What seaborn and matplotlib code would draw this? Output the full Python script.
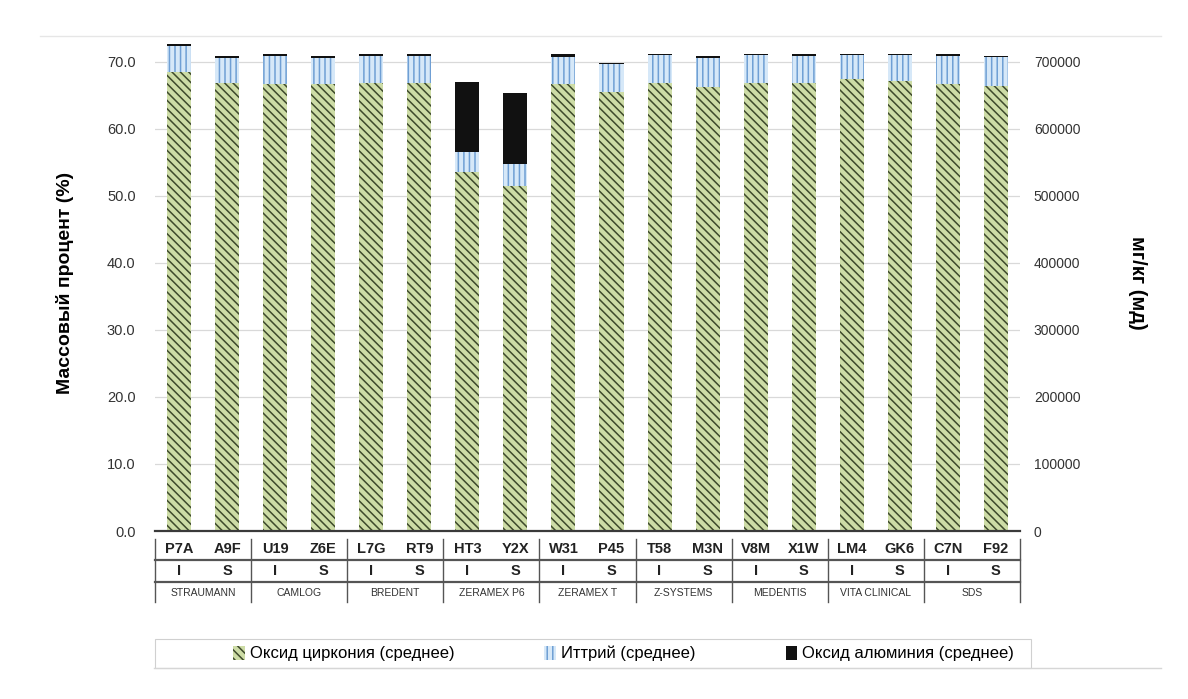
import numpy as np
import pandas as pd
import matplotlib
matplotlib.use("Agg")
import matplotlib.pyplot as plt
import matplotlib.transforms as mtransforms
from matplotlib.patches import Patch
import seaborn as sns

# данные
codes = ['P7A', 'A9F', 'U19', 'Z6E', 'L7G', 'RT9', 'HT3', 'Y2X', 'W31',
         'P45', 'T58', 'M3N', 'V8M', 'X1W', 'LM4', 'GK6', 'C7N', 'F92']
types = ['I', 'S'] * 9
brands = ['STRAUMANN', 'CAMLOG', 'BREDENT', 'ZERAMEX P6', 'ZERAMEX T',
          'Z-SYSTEMS', 'MEDENTIS', 'VITA CLINICAL', 'SDS']
zirconia = [68.4, 66.9, 66.7, 66.7, 66.9, 66.9, 53.5, 51.5, 66.7,
            65.5, 66.9, 66.3, 66.9, 66.9, 67.5, 67.2, 66.7, 66.4]
yttria = [4.0, 3.7, 4.1, 3.9, 4.0, 3.9, 3.0, 3.3, 4.0,
          4.2, 4.1, 4.2, 4.1, 4.0, 3.5, 3.8, 4.2, 4.3]
alumina = [0.2, 0.2, 0.3, 0.2, 0.2, 0.3, 10.5, 10.5, 0.4,
           0.1, 0.2, 0.3, 0.2, 0.2, 0.2, 0.2, 0.2, 0.2]

df = pd.DataFrame({'code': codes, 'zr': zirconia, 'y': yttria, 'al': alumina})
df['zr_y'] = df['zr'] + df['y']
df['total'] = df['zr_y'] + df['al']

green, green_h = '#cddca6', '#3e4a2c'
blue, blue_h = '#d6e8f8', '#6f9fd4'
black = '#111111'

plt.rcParams['font.family'] = ['Liberation Sans', 'DejaVu Sans']
plt.rcParams['hatch.linewidth'] = 1.1
fig = plt.figure(figsize=(11.88, 6.99), dpi=100)
ax = fig.add_axes([0.1305, 0.2403, 0.728, 0.7097])

sns.barplot(data=df, x='code', y='total', order=codes, color=black,
            width=0.5, saturation=1, linewidth=0, ax=ax)
sns.barplot(data=df, x='code', y='zr_y', order=codes, color=blue,
            width=0.5, saturation=1, edgecolor=blue_h, hatch='|||',
            linewidth=0, ax=ax)
sns.barplot(data=df, x='code', y='zr', order=codes, color=green,
            width=0.5, saturation=1, edgecolor=green_h, hatch='\\\\\\\\',
            linewidth=0, ax=ax)

ax.set_ylim(0, 74)
ax.set_xlim(-0.5, 17.5)
ax.set_yticks(np.arange(0, 71, 10))
ax.set_yticklabels([f'{v:.1f}' for v in np.arange(0, 71, 10)],
                   fontsize=10.5, color='#333333')
ax.set_xticks([])
ax.set_xlabel('')
ax.set_ylabel('Массовый процент (%)', fontsize=14, fontweight='bold',
              labelpad=24)
ax.grid(axis='y', color='#d9d9d9', linewidth=0.9)
ax.set_axisbelow(True)
for s in ['top', 'right', 'left']:
    ax.spines[s].set_visible(False)
ax.spines['bottom'].set_color('#3a3a3a')
ax.spines['bottom'].set_linewidth(1.6)
ax.tick_params(axis='y', length=0, pad=14)

ax2 = ax.twinx()
ax2.set_ylim(0, 740000)
ax2.set_yticks(np.arange(0, 700001, 100000))
ax2.set_yticklabels([f'{v:d}' for v in np.arange(0, 700001, 100000)],
                    fontsize=10, color='#333333')
ax2.tick_params(axis='y', length=0, pad=10)
for s in ax2.spines.values():
    s.set_visible(False)
ax2.set_ylabel('мг/кг (мд)', fontsize=14.5, fontweight='bold',
               rotation=270, labelpad=48)

# таблица категорий под осью
tr = mtransforms.blended_transform_factory(ax.transData, ax.transAxes)
lc = '#555555'
for i, (c, t) in enumerate(zip(codes, types)):
    ax.text(i, -0.036, c, transform=tr, ha='center', va='center',
            fontsize=10.5, fontweight='bold', color='#222222')
    ax.text(i, -0.081, t, transform=tr, ha='center', va='center',
            fontsize=10.5, fontweight='bold', color='#222222')
for j, b in enumerate(brands):
    ax.text(2 * j + 0.5, -0.124, b, transform=tr, ha='center', va='center',
            fontsize=7.5, color='#333333')
for yy in [-0.058, -0.103]:
    ax.plot([-0.5, 17.5], [yy, yy], transform=tr, color=lc, lw=1.6,
            clip_on=False)
for xx in np.arange(-0.5, 18, 2):
    ax.plot([xx, xx], [-0.016, -0.143], transform=tr, color=lc, lw=1.0,
            clip_on=False)

# легенда
handles = [Patch(facecolor=green, edgecolor=green_h, hatch='\\\\\\\\', lw=0),
           Patch(facecolor=blue, edgecolor=blue_h, hatch='|||', lw=0),
           Patch(facecolor=black, lw=0)]
labels = ['Оксид циркония (среднее)', 'Иттрий (среднее)',
          'Оксид алюминия (среднее)']
leg = fig.legend(handles, labels, loc='center', ncol=3, mode='expand',
                 bbox_to_anchor=(0.185, 0.045, 0.68, 0.04),
                 frameon=False, handlelength=0.7,
                 handleheight=0.9, handletextpad=0.3, columnspacing=1.0,
                 borderpad=0.3, prop={'size': 12})
fig.add_artist(plt.Rectangle((0.1305, 0.044), 0.737, 0.042,
                             transform=fig.transFigure, fill=False,
                             edgecolor='#d0d0d0', lw=0.8))

# рамочные линии
fig.add_artist(plt.Line2D([0.034, 0.977], [0.949, 0.949], color='#e6e6e6',
                          lw=1.0))
fig.add_artist(plt.Line2D([0.13, 0.977], [0.044, 0.044], color='#d6d6d6',
                          lw=1.0))

plt.savefig('out.png', dpi=100)
